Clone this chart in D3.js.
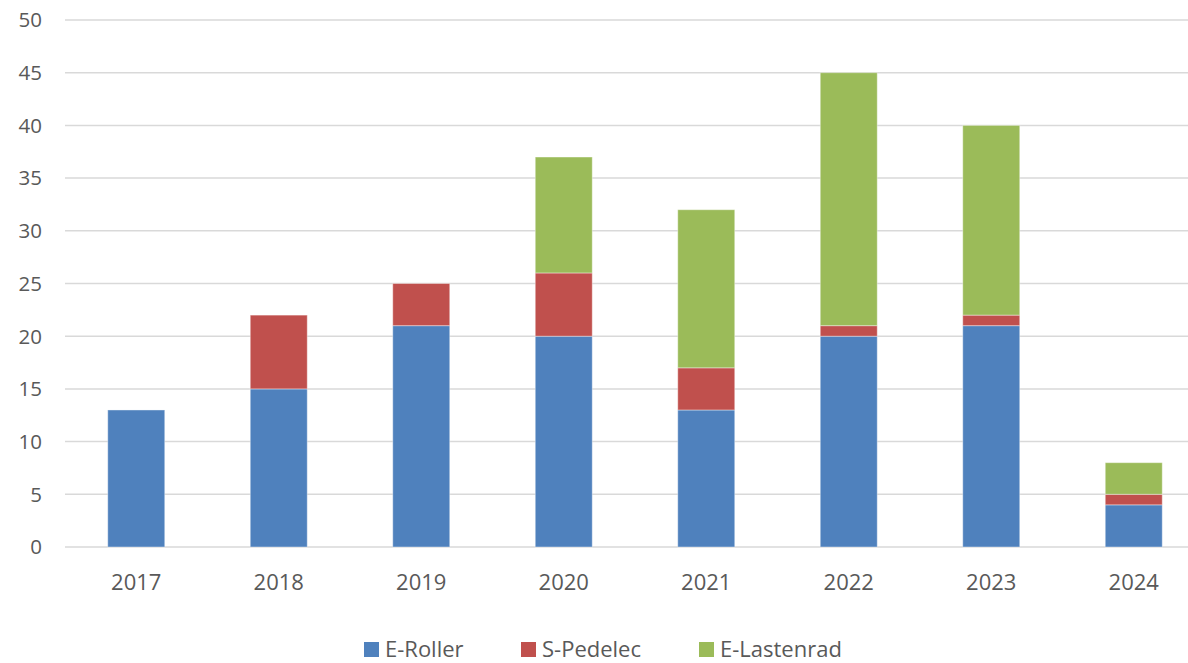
<!DOCTYPE html>
<html>
<head>
<meta charset="utf-8">
<script src="https://cdn.jsdelivr.net/npm/d3@7"></script>
<style>
  body { margin: 0; background: #fff; overflow: hidden; }
  text { font-family: "Open Sans", sans-serif; fill: #595959; }
</style>
</head>
<body>
<div id="chart"></div>
<script>
// Chart data
const years = ['2017', '2018', '2019', '2020', '2021', '2022', '2023', '2024'];
const seriesNames = ['E-Roller', 'S-Pedelec', 'E-Lastenrad'];
const eRoller = [13, 15, 21, 20, 13, 20, 21, 4];
const sPedelec = [0, 7, 4, 6, 4, 1, 1, 1];
const eLastenrad = [0, 0, 0, 11, 15, 24, 18, 3];
const yTicks = [0, 5, 10, 15, 20, 25, 30, 35, 40, 45, 50];
const colors = ['#4f81bd', '#c0504d', '#9bbb59'];

const width = 1188;
const height = 663;
const margin = { top: 20, right: -17, bottom: 116, left: 65 };

const svg = d3.select('#chart').append('svg')
  .attr('width', width)
  .attr('height', height);

// Build rows for the stack layout
const rows = years.map((y, i) => ({
  year: y,
  'E-Roller': eRoller[i],
  'S-Pedelec': sPedelec[i],
  'E-Lastenrad': eLastenrad[i]
}));
const stacked = d3.stack().keys(seriesNames)(rows);

const x = d3.scaleBand()
  .domain(years)
  .range([margin.left, width - margin.right])
  .paddingInner(0.6)
  .paddingOuter(0.3);

const y = d3.scaleLinear()
  .domain([0, 50])
  .range([height - margin.bottom, margin.top]);

// Gridlines
svg.append('g')
  .selectAll('line')
  .data(yTicks)
  .join('line')
  .attr('x1', margin.left)
  .attr('x2', width - margin.right)
  .attr('y1', d => y(d))
  .attr('y2', d => y(d))
  .attr('stroke', '#d9d9d9')
  .attr('stroke-width', 1.5);

// Y labels
svg.append('g')
  .selectAll('text')
  .data(yTicks)
  .join('text')
  .attr('x', 42)
  .attr('y', d => y(d))
  .attr('dy', '0.36em')
  .attr('text-anchor', 'end')
  .attr('font-size', 20.5)
  .text(d => d);

// Bars
svg.append('g')
  .selectAll('g')
  .data(stacked)
  .join('g')
  .attr('fill', (d, i) => colors[i])
  .selectAll('rect')
  .data(d => d.filter(s => s[1] - s[0] > 0))
  .join('rect')
  .attr('x', d => x(d.data.year))
  .attr('y', d => y(d[1]))
  .attr('width', x.bandwidth())
  .attr('height', d => y(d[0]) - y(d[1]))
  .attr('stroke', '#ffffff')
  .attr('stroke-opacity', 0.4)
  .attr('stroke-width', 1);

// X labels
svg.append('g')
  .selectAll('text')
  .data(years)
  .join('text')
  .attr('x', d => x(d) + x.bandwidth() / 2)
  .attr('y', 590)
  .attr('text-anchor', 'middle')
  .attr('font-size', 22)
  .text(d => d);

// Legend
const legendX = [364, 521, 699];
const legend = svg.append('g')
  .selectAll('g')
  .data(seriesNames)
  .join('g')
  .attr('transform', (d, i) => `translate(${legendX[i]},642)`);

legend.append('rect')
  .attr('width', 15)
  .attr('height', 15)
  .attr('fill', (d, i) => colors[i]);

legend.append('text')
  .attr('x', 21)
  .attr('y', 15)
  .attr('font-size', 22)
  .text(d => d);
</script>
</body>
</html>
